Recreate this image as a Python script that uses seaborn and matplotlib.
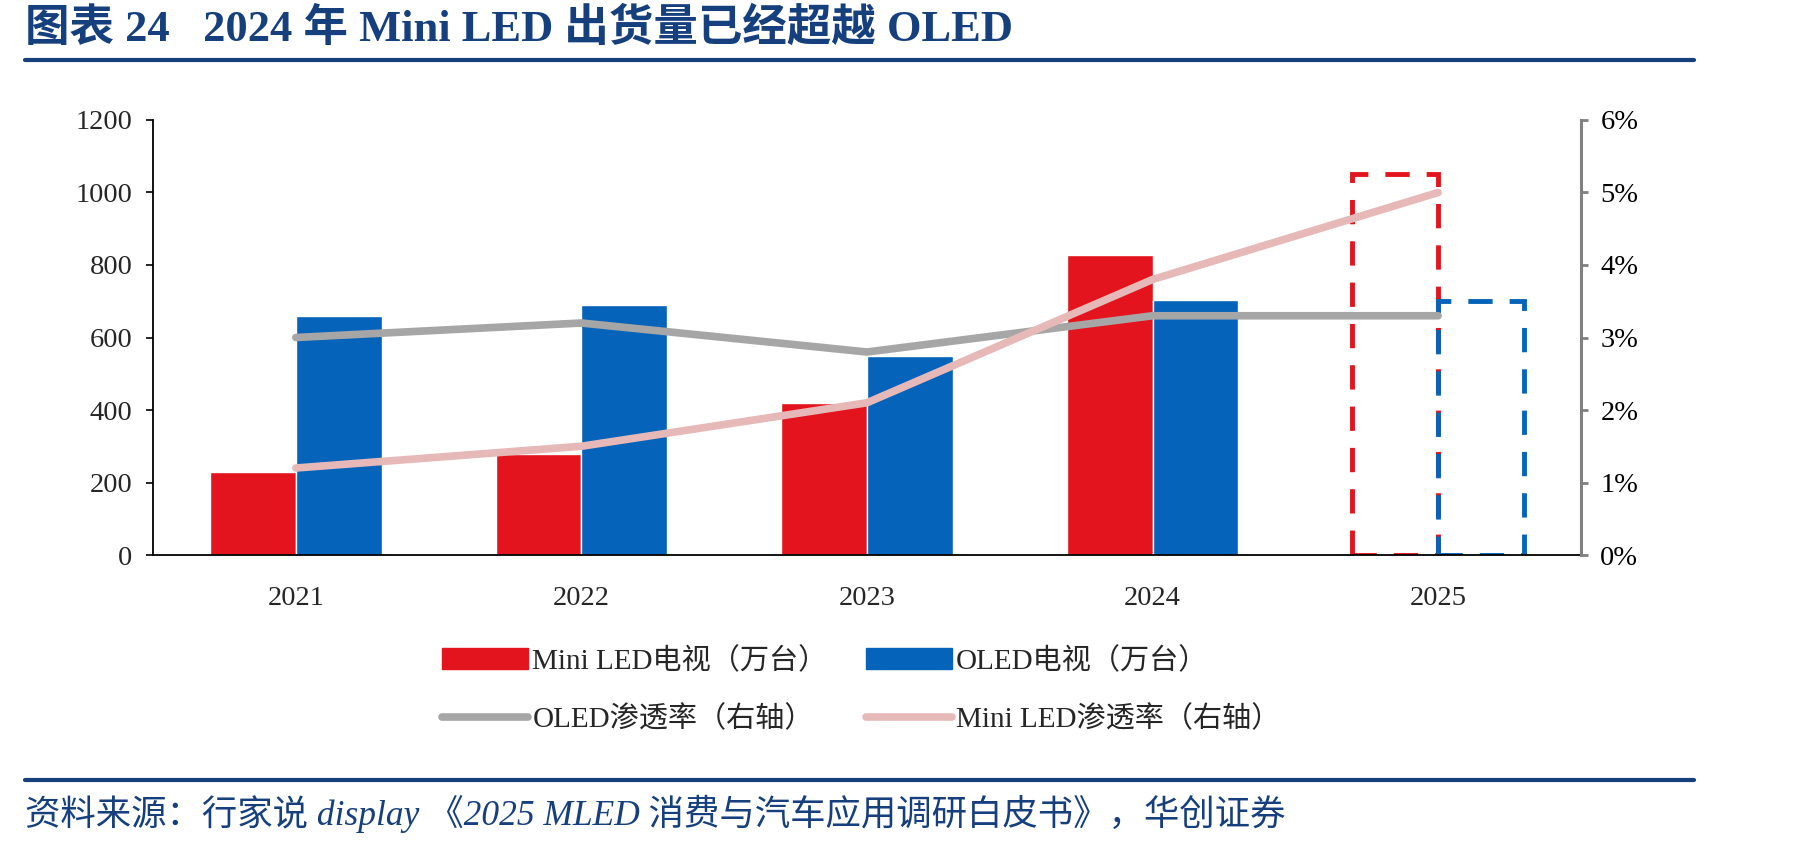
import numpy as np
import pandas as pd
import matplotlib
matplotlib.use("Agg")
import matplotlib.pyplot as plt
from matplotlib.patches import Patch
from matplotlib.lines import Line2D
from matplotlib.ticker import FuncFormatter
import seaborn as sns

# 数据
years = ['2021', '2022', '2023', '2024', '2025']
mini_led_tv = [228, 280, 418, 827, 1050]     # 万台
oled_tv = [659, 690, 549, 703, 700]          # 万台
oled_rate = [3.0, 3.2, 2.8, 3.3, 3.3]        # %
mini_led_rate = [1.2, 1.5, 2.1, 3.8, 5.0]    # %

name_mini = 'Mini LED电视（万台）'
name_oled = 'OLED电视（万台）'
name_oled_rate = 'OLED渗透率（右轴）'
name_mini_rate = 'Mini LED渗透率（右轴）'

red = '#E3141D'
blue = '#0563BA'
gray = '#A6A6A6'
pink = '#E6B9B8'
navy = '#163F7E'

sns.set_style('white')
plt.rcParams['font.family'] = ['Liberation Serif', 'Noto Sans CJK SC']

df = pd.DataFrame({
    'year': years * 2,
    'series': [name_mini] * len(years) + [name_oled] * len(years),
    'value': mini_led_tv + oled_tv,
})

fig = plt.figure(figsize=(18.01, 8.48), dpi=100)
ax = fig.add_axes([0.085, 0.3455, 0.7928, 0.513])

sns.barplot(data=df, x='year', y='value', hue='series', palette=[red, blue],
            width=0.6, saturation=1, legend=False, ax=ax)

# 2025 为预测，画成虚线框
for cont, c in zip(ax.containers, [red, blue]):
    bar = cont[len(years) - 1]
    bar.set_facecolor('none')
    bar.set_edgecolor(c)
    bar.set_linewidth(3.5)
    bar.set_linestyle((0, (5, 3.5)))

ax.set_xlim(-0.5, len(years) - 0.5)
ax.set_ylim(0, 1200)
ax.set_yticks(range(0, 1201, 200))
ax.set_xlabel('')
ax.set_ylabel('')
ax.set_xticks(np.arange(-0.5, len(years), 1), minor=True)
ax.tick_params(axis='x', which='major', length=0, pad=22, labelsize=20.5)
ax.tick_params(axis='x', which='minor', length=6, width=1.2, direction='out', color='black')
ax.tick_params(axis='y', length=5, width=1.2, direction='out', color='black', pad=10, labelsize=20.5)
for s in ['top', 'right']:
    ax.spines[s].set_visible(False)
for s in ['left', 'bottom']:
    ax.spines[s].set_color('black')
    ax.spines[s].set_linewidth(1.3)

# 右轴：渗透率
ax2 = ax.twinx()
x_pos = np.arange(len(years))
sns.lineplot(x=x_pos, y=oled_rate, color=gray, linewidth=5.5, ax=ax2,
             solid_capstyle='round')
sns.lineplot(x=x_pos, y=mini_led_rate, color=pink, linewidth=5.5, ax=ax2,
             solid_capstyle='round')
ax2.set_ylim(0, 6)
ax2.set_yticks(range(0, 7))
ax2.yaxis.set_major_formatter(FuncFormatter(lambda v, p: f'{v:.0f}%'))
ax2.tick_params(axis='y', length=5, width=2, direction='out', color='#808080',
                labelcolor='black', pad=9, labelsize=20.5)
for s in ['top', 'left', 'bottom']:
    ax2.spines[s].set_visible(False)
ax2.spines['right'].set_color('#808080')
ax2.spines['right'].set_linewidth(2.2)
ax2.set_xlim(-0.5, len(years) - 0.5)

# 图例
handles = [Patch(facecolor=red, edgecolor=red),
           Line2D([0], [0], color=gray, linewidth=5.5, solid_capstyle='round'),
           Patch(facecolor=blue, edgecolor=blue),
           Line2D([0], [0], color=pink, linewidth=5.5, solid_capstyle='round')]
labels = [name_mini, name_oled_rate, name_oled, name_mini_rate]
fig.legend(handles, labels, ncol=2, frameon=False, fontsize=21,
           loc='center left', bbox_to_anchor=(0.231, 0.186),
           handlelength=2.95, handleheight=0.72, handletextpad=0.14,
           columnspacing=1.3, labelspacing=1.05)

# 标题与来源
fig.text(0.014, 1 - 29 / 848, '图表 24   2024 年 Mini LED 出货量已经超越 OLED',
         fontsize=32, fontweight='bold', color=navy, va='center', ha='left')
fig.add_artist(Line2D([25 / 1801, 1694 / 1801], [1 - 60 / 848, 1 - 60 / 848],
                      color=navy, linewidth=3))
fig.add_artist(Line2D([25 / 1801, 1694 / 1801], [1 - 780 / 848, 1 - 780 / 848],
                      color=navy, linewidth=3))
fig.text(0.014, 1 - 814 / 848,
         '资料来源：行家说 display 《2025 MLED 消费与汽车应用调研白皮书》，华创证券',
         fontsize=25.5, style='italic', color=navy, va='center', ha='left')

fig.savefig('out.png', dpi=100)
